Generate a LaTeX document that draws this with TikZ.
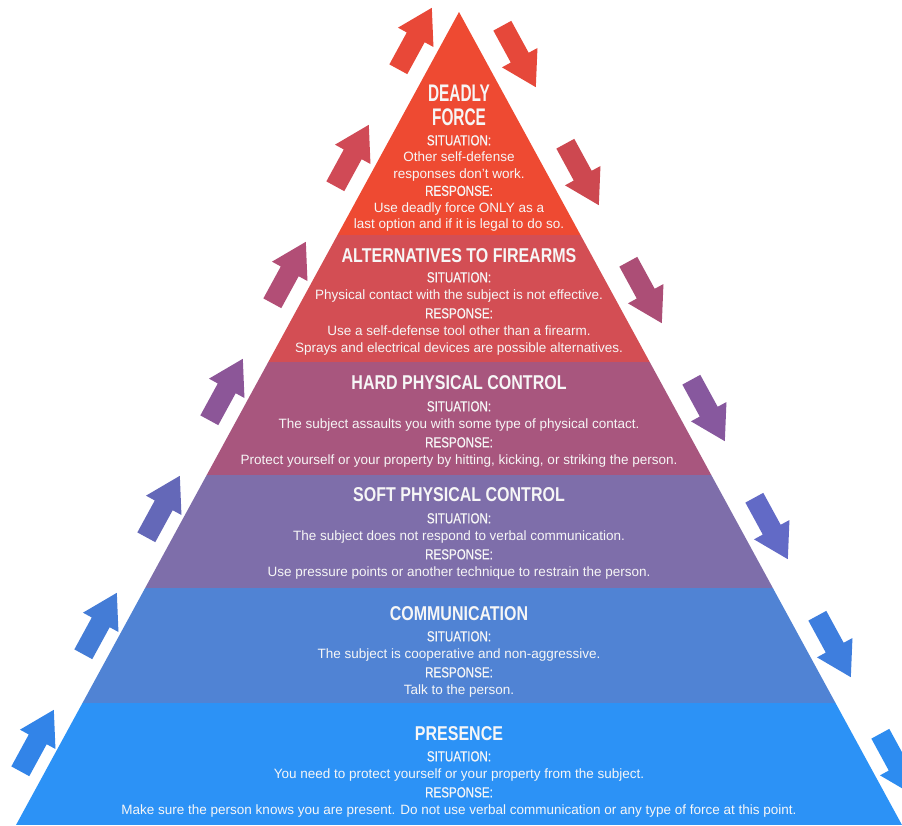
\documentclass[tikz,border=0pt]{standalone}
\usepackage{xcolor}
\usepackage{fontspec}
\setmainfont{Liberation Sans}
\newfontfamily\headfont[FakeStretch=0.8]{Liberation Sans}
\newfontfamily\topfont[FakeStretch=0.64]{Liberation Sans}
\newfontfamily\labfont[FakeStretch=0.8, FakeBold=0.6]{Liberation Sans}
\usepackage{tikz}
\usetikzlibrary{shapes.arrows, positioning}
\definecolor{deadlyred}{RGB}{238,74,50}
\definecolor{altred}{RGB}{211,78,84}
\definecolor{hardmauve}{RGB}{168,86,126}
\definecolor{softpurple}{RGB}{126,110,170}
\definecolor{commblue}{RGB}{80,131,212}
\definecolor{presblue}{RGB}{44,146,246}
\definecolor{paletext}{RGB}{246,246,246}
\newcommand{\sitlbl}{{\labfont\fontsize{14.5}{16}\selectfont SITUATION:}}
\newcommand{\resplbl}{{\labfont\fontsize{14.5}{16}\selectfont RESPONSE:}}

\begin{document}
\begin{tikzpicture}
  [
    x=1pt, y=-1pt,
    Arrow/.style={single arrow, draw=none, minimum height=70pt, minimum width=40pt,
      inner sep=10pt, single arrow head extend=10pt, single arrow tip angle=62,
      single arrow head indent=0pt},
    Up/.style={Arrow, rotate=61.4},
    Down/.style={Arrow, rotate=-61.4},
    Head/.style={text=paletext, align=center, inner sep=0pt,
      font=\headfont\bfseries\fontsize{20}{22}\selectfont},
    Body/.style={text=paletext, align=center, inner sep=0pt, anchor=north,
      font=\fontsize{13.5}{17}\selectfont}
  ]
  \clip (0,0) rectangle (902,825);
  \fill[white] (0,0) rectangle (902,825);
  % Pyramid
  \coordinate (apex) at (459,12);
  \coordinate (baseL) at (16,825);
  \coordinate (baseR) at (902,825);
  \begin{scope}
    \clip (apex) -- (baseL) -- (baseR) -- cycle;
    \fill[deadlyred] (0,0) rectangle (902,235);
    \fill[altred] (0,235) rectangle (902,362);
    \fill[hardmauve] (0,362) rectangle (902,475);
    \fill[softpurple] (0,475) rectangle (902,588);
    \fill[commblue] (0,588) rectangle (902,703);
    \fill[presblue] (0,703) rectangle (902,825);
  \end{scope}
  % Arrows
  \node[Up, fill={rgb,255:red,50;green,132;blue,232}] (up1) at (33,748) {};
  \node[Up, fill={rgb,255:red,68;green,124;blue,214}] (up2) at (96,631) {};
  \node[Up, fill={rgb,255:red,100;green,104;blue,184}] (up3) at (159,514) {};
  \node[Up, fill={rgb,255:red,140;green,86;blue,152}] (up4) at (222,397) {};
  \node[Up, fill={rgb,255:red,178;green,78;blue,118}] (up5) at (285,280) {};
  \node[Up, fill={rgb,255:red,208;green,74;blue,86}] (up6) at (348,163) {};
  \node[Up, fill={rgb,255:red,232;green,72;blue,56}] (up7) at (411,46) {};
  \node[Down, fill={rgb,255:red,230;green,72;blue,58}] (down1) at (515,49) {};
  \node[Down, fill={rgb,255:red,205;green,72;blue,80}] (down2) at (578,167) {};
  \node[Down, fill={rgb,255:red,172;green,78;blue,118}] (down3) at (641,285) {};
  \node[Down, fill={rgb,255:red,135;green,88;blue,158}] (down4) at (704,403) {};
  \node[Down, fill={rgb,255:red,98;green,106;blue,198}] (down5) at (767,521) {};
  \node[Down, fill={rgb,255:red,62;green,126;blue,222}] (down6) at (830,639) {};
  \node[Down, fill={rgb,255:red,45;green,140;blue,240}] (down7) at (893,757) {};
  % Deadly force
  \node[Head, font=\topfont\bfseries\fontsize{24}{24}\selectfont] (deadlyhead) at (459,105) {DEADLY\\FORCE};
  \node[Body, font=\fontsize{13.5}{16.5}\selectfont] (deadlytext) at (459,135) {\sitlbl\\Other self-defense\\responses don't work.\\[1pt]
    \resplbl\\Use deadly force ONLY as a\\last option and if it is legal to do so.};
  % Alternatives to firearms
  \node[Head] (althead) at (459,256) {ALTERNATIVES TO FIREARMS};
  \node[Body] (alttext) at (459,272) {\sitlbl\\Physical contact with the subject is not effective.\\[2pt]
    \resplbl\\Use a self-defense tool other than a firearm.\\Sprays and electrical devices are possible alternatives.};
  % Hard physical control
  \node[Head] (hardhead) at (459,383) {HARD PHYSICAL CONTROL};
  \node[Body] (hardtext) at (459,401) {\sitlbl\\The subject assaults you with some type of physical contact.\\[2pt]
    \resplbl\\Protect yourself or your property by hitting, kicking, or striking the person.};
  % Soft physical control
  \node[Head] (softhead) at (459,495) {SOFT PHYSICAL CONTROL};
  \node[Body] (softtext) at (459,513) {\sitlbl\\The subject does not respond to verbal communication.\\[2pt]
    \resplbl\\Use pressure points or another technique to restrain the person.};
  % Communication
  \node[Head] (commhead) at (459,614) {COMMUNICATION};
  \node[Body] (commtext) at (459,631) {\sitlbl\\The subject is cooperative and non-aggressive.\\[2pt]
    \resplbl\\Talk to the person.};
  % Presence
  \node[Head] (preshead) at (459,734) {PRESENCE};
  \node[Body] (prestext) at (459,751) {\sitlbl\\You need to protect yourself or your property from the subject.\\[2pt]
    \resplbl\\Make sure the person knows you are present. Do not use verbal communication or any type of force at this point.};
\end{tikzpicture}
\end{document}
